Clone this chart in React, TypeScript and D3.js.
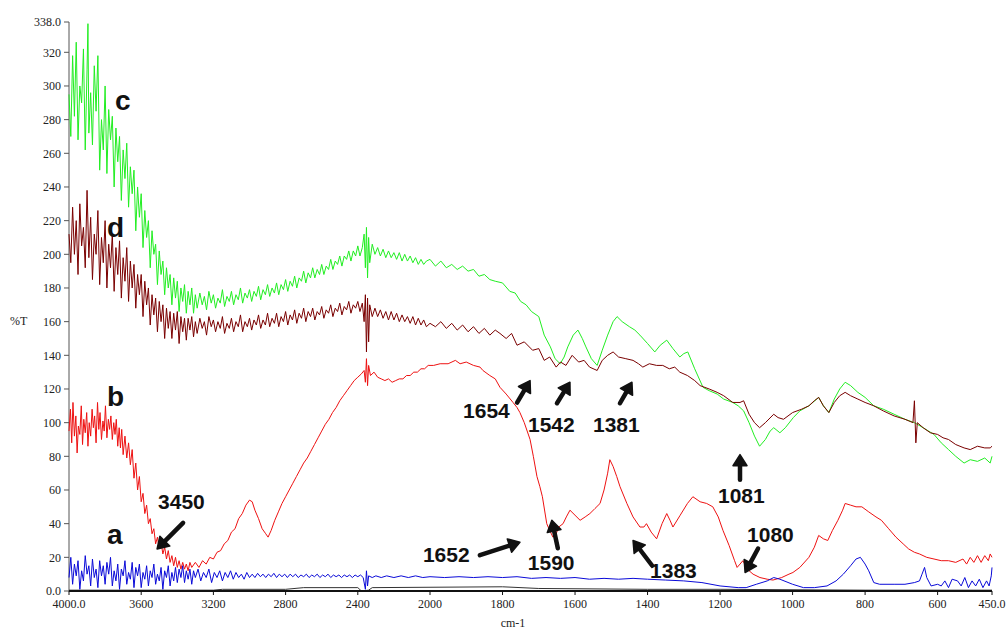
import * as d3 from "d3";

type Pt = [number, number];

// %T readings, [wavenumber cm-1, value]
const SERIES_C: Pt[] = [
  [4000, 295], [3990, 270], [3980, 318], [3970, 282], [3960, 326], [3950, 268], [3940, 300], [3930, 290],
  [3920, 322], [3910, 262], [3900, 310], [3895, 337], [3890, 272], [3880, 296], [3870, 265], [3860, 312],
  [3850, 285], [3840, 318], [3830, 250], [3820, 280], [3810, 262], [3800, 300], [3790, 248], [3780, 286],
  [3770, 268], [3760, 282], [3750, 240], [3740, 275], [3730, 255], [3720, 270], [3710, 232], [3700, 262],
  [3690, 245], [3680, 266], [3670, 228], [3660, 252], [3650, 236], [3640, 250], [3630, 214], [3620, 240],
  [3610, 222], [3600, 236], [3590, 204], [3580, 226], [3570, 210], [3560, 220], [3550, 192], [3540, 214],
  [3530, 200], [3520, 206], [3510, 182], [3500, 202], [3490, 188], [3480, 196], [3470, 176], [3460, 192],
  [3450, 180], [3440, 188], [3430, 170], [3420, 186], [3410, 174], [3400, 184], [3390, 166], [3380, 180],
  [3370, 172], [3360, 182], [3350, 165], [3340, 178], [3330, 170], [3320, 180], [3310, 165], [3300, 176],
  [3290, 168], [3275, 177], [3262, 170], [3250, 175], [3238, 167], [3225, 178], [3212, 171], [3200, 176],
  [3188, 168], [3175, 174], [3162, 171], [3150, 179], [3138, 169], [3125, 175], [3112, 172], [3100, 178],
  [3088, 170], [3075, 176], [3062, 173], [3050, 180], [3038, 171], [3025, 177], [3012, 174], [3000, 179],
  [2988, 172], [2975, 178], [2962, 175], [2950, 181], [2938, 173], [2925, 179], [2912, 176], [2900, 182],
  [2888, 175], [2875, 180], [2862, 177], [2850, 183], [2838, 176], [2825, 182], [2812, 179], [2800, 185],
  [2788, 178], [2775, 184], [2762, 181], [2750, 187], [2738, 180], [2725, 186], [2712, 184], [2700, 190],
  [2688, 183], [2675, 189], [2662, 186], [2650, 192], [2638, 186], [2625, 191], [2612, 188], [2600, 194],
  [2588, 188], [2575, 193], [2562, 191], [2550, 197], [2538, 191], [2525, 196], [2512, 194], [2500, 199],
  [2488, 193], [2475, 199], [2462, 197], [2450, 202], [2438, 196], [2425, 202], [2412, 199], [2400, 205],
  [2388, 199], [2375, 204], [2365, 212], [2358, 192], [2352, 216], [2346, 186], [2340, 210], [2334, 195],
  [2320, 206], [2305, 200], [2290, 204], [2275, 199], [2260, 203], [2245, 198], [2230, 202], [2215, 198],
  [2200, 201], [2185, 197], [2170, 201], [2155, 196], [2140, 200], [2125, 196], [2110, 199], [2095, 195],
  [2080, 198], [2065, 194], [2050, 197], [2035, 194], [2020, 196], [2000, 197], [1985, 193], [1970, 196],
  [1955, 192], [1940, 194], [1925, 191], [1910, 193], [1895, 190], [1880, 191], [1865, 187], [1850, 188],
  [1835, 185], [1820, 184], [1800, 183], [1780, 178], [1765, 177], [1750, 172], [1735, 170], [1720, 166],
  [1700, 163], [1685, 152], [1668, 145], [1655, 138], [1641, 135], [1630, 139], [1620, 145], [1605, 152],
  [1592, 155], [1580, 150], [1570, 145], [1555, 138], [1539, 134], [1525, 143], [1510, 152], [1495, 160],
  [1484, 163], [1470, 160], [1450, 157], [1435, 155], [1421, 152], [1400, 147], [1380, 142], [1365, 146],
  [1347, 149], [1330, 144], [1311, 139], [1300, 141], [1289, 142], [1270, 132], [1247, 121], [1230, 119],
  [1208, 117], [1190, 114], [1165, 112], [1150, 110], [1135, 107], [1120, 100], [1105, 92], [1091, 86],
  [1075, 90], [1062, 95], [1052, 97], [1035, 94], [1020, 97], [998, 103], [980, 107], [955, 110],
  [928, 115], [915, 110], [900, 106], [885, 114], [870, 120], [855, 124], [840, 122], [820, 118],
  [800, 115], [776, 110], [750, 108], [720, 105], [690, 102], [664, 100], [640, 97], [610, 93],
  [590, 88], [570, 84], [550, 80], [527, 76], [510, 78], [490, 77], [470, 79], [455, 76], [450, 80],
];

const SERIES_D: Pt[] = [
  [4000, 212], [3990, 195], [3980, 228], [3970, 200], [3960, 220], [3950, 188], [3940, 230], [3930, 205],
  [3920, 216], [3910, 192], [3900, 238], [3890, 198], [3880, 222], [3870, 185], [3860, 212], [3850, 200],
  [3840, 226], [3830, 182], [3820, 210], [3810, 195], [3800, 220], [3790, 180], [3780, 206], [3770, 192],
  [3760, 212], [3750, 178], [3740, 204], [3730, 188], [3720, 208], [3710, 174], [3700, 198], [3690, 184],
  [3680, 204], [3670, 172], [3660, 196], [3650, 180], [3640, 194], [3630, 168], [3620, 188], [3610, 176],
  [3600, 188], [3590, 163], [3580, 184], [3570, 170], [3560, 180], [3550, 158], [3540, 176], [3530, 164],
  [3520, 174], [3510, 154], [3500, 172], [3490, 160], [3480, 170], [3470, 150], [3460, 168], [3450, 156],
  [3440, 166], [3430, 150], [3420, 165], [3410, 155], [3400, 166], [3390, 147], [3380, 163], [3370, 154],
  [3360, 162], [3350, 149], [3340, 162], [3330, 155], [3320, 163], [3310, 151], [3300, 160], [3290, 153],
  [3275, 162], [3262, 156], [3250, 160], [3238, 152], [3225, 163], [3212, 157], [3200, 161], [3188, 154],
  [3175, 160], [3162, 156], [3150, 163], [3138, 153], [3125, 159], [3112, 156], [3100, 162], [3088, 154],
  [3075, 160], [3062, 157], [3050, 164], [3038, 154], [3025, 160], [3012, 157], [3000, 162], [2988, 155],
  [2975, 161], [2962, 158], [2950, 164], [2938, 156], [2925, 161], [2912, 158], [2900, 165], [2888, 157],
  [2875, 162], [2862, 159], [2850, 165], [2838, 157], [2825, 163], [2812, 160], [2800, 166], [2788, 158],
  [2775, 164], [2762, 161], [2750, 167], [2738, 159], [2725, 165], [2712, 162], [2700, 168], [2688, 160],
  [2675, 166], [2662, 163], [2650, 168], [2638, 161], [2625, 166], [2612, 164], [2600, 169], [2588, 162],
  [2575, 167], [2562, 165], [2550, 170], [2538, 163], [2525, 168], [2512, 166], [2500, 171], [2488, 164],
  [2475, 169], [2462, 167], [2450, 172], [2438, 165], [2425, 170], [2412, 168], [2400, 172], [2388, 166],
  [2375, 171], [2365, 160], [2358, 176], [2352, 142], [2346, 174], [2340, 148], [2334, 170], [2320, 163],
  [2305, 168], [2290, 163], [2275, 167], [2260, 162], [2245, 166], [2230, 161], [2215, 166], [2200, 161],
  [2185, 165], [2170, 160], [2155, 164], [2140, 160], [2125, 163], [2110, 159], [2095, 163], [2080, 158],
  [2065, 162], [2050, 158], [2035, 161], [2020, 157], [2000, 159], [1985, 157], [1970, 160], [1955, 156],
  [1940, 159], [1925, 155], [1910, 158], [1895, 154], [1880, 157], [1865, 153], [1850, 156], [1835, 152],
  [1820, 155], [1807, 153], [1790, 150], [1775, 153], [1760, 146], [1740, 148], [1717, 143], [1700, 144],
  [1685, 137], [1670, 139], [1652, 133], [1640, 136], [1625, 134], [1608, 140], [1590, 136], [1575, 137],
  [1560, 133], [1539, 131], [1525, 137], [1510, 140], [1495, 142], [1480, 139], [1460, 138], [1440, 137],
  [1425, 135], [1413, 133], [1395, 135], [1375, 134], [1358, 134], [1340, 132], [1325, 133], [1311, 130],
  [1290, 128], [1270, 125], [1255, 122], [1230, 120], [1208, 118], [1190, 116], [1165, 112], [1145, 112],
  [1135, 113], [1120, 105], [1105, 100], [1091, 97], [1075, 100], [1052, 105], [1040, 103], [1025, 102],
  [1000, 106], [975, 108], [955, 110], [940, 113], [928, 115], [915, 110], [900, 106], [885, 112],
  [870, 116], [855, 118], [840, 116], [820, 114], [800, 112], [776, 110], [750, 107], [720, 104],
  [690, 102], [668, 100], [664, 113], [660, 88], [656, 100], [640, 97], [620, 94], [600, 93],
  [585, 91], [570, 90], [550, 87], [527, 85], [510, 84], [490, 86], [470, 85], [455, 85], [450, 86],
];

const SERIES_B: Pt[] = [
  [4000, 95], [3992, 108], [3985, 88], [3978, 112], [3970, 92], [3962, 104], [3955, 82], [3948, 98],
  [3940, 93], [3932, 110], [3925, 87], [3918, 102], [3910, 94], [3902, 106], [3895, 86], [3888, 100],
  [3880, 92], [3872, 108], [3865, 97], [3858, 104], [3850, 88], [3842, 112], [3835, 96], [3828, 106],
  [3820, 90], [3812, 101], [3805, 95], [3798, 110], [3790, 91], [3782, 102], [3775, 96], [3768, 104],
  [3760, 90], [3752, 100], [3745, 93], [3738, 102], [3730, 86], [3722, 97], [3715, 85], [3708, 96],
  [3700, 81], [3690, 92], [3680, 79], [3670, 88], [3660, 75], [3650, 84], [3640, 67], [3630, 76],
  [3620, 60], [3610, 68], [3600, 53], [3590, 58], [3580, 46], [3570, 51], [3560, 40], [3550, 43],
  [3540, 34], [3530, 37], [3520, 28], [3510, 32], [3500, 25], [3490, 29], [3480, 22], [3470, 26],
  [3460, 19], [3450, 24], [3440, 17], [3430, 21], [3420, 15], [3410, 20], [3400, 14], [3390, 18],
  [3380, 13], [3370, 17], [3360, 13], [3350, 16], [3340, 12], [3330, 17], [3320, 14], [3300, 17],
  [3280, 14], [3260, 18], [3240, 16], [3220, 20], [3200, 19], [3180, 23], [3160, 24], [3140, 28],
  [3120, 30], [3100, 35], [3080, 37], [3060, 43], [3040, 46], [3020, 51], [3000, 54], [2985, 53],
  [2970, 48], [2950, 43], [2930, 37], [2910, 34], [2897, 32], [2880, 36], [2860, 42], [2840, 47],
  [2820, 52], [2800, 56], [2780, 60], [2760, 64], [2740, 68], [2720, 72], [2700, 76], [2680, 79],
  [2660, 83], [2640, 87], [2620, 91], [2600, 95], [2580, 99], [2560, 102], [2540, 106], [2520, 109],
  [2500, 113], [2480, 116], [2460, 119], [2440, 122], [2420, 125], [2400, 127], [2380, 129], [2365, 131],
  [2358, 124], [2352, 138], [2346, 122], [2340, 134], [2330, 128], [2310, 130], [2290, 127], [2270, 126],
  [2250, 125], [2230, 126], [2210, 124], [2190, 125], [2170, 126], [2150, 126], [2130, 128], [2110, 128],
  [2090, 130], [2070, 130], [2050, 132], [2030, 132], [2010, 134], [1990, 134], [1972, 135], [1950, 135],
  [1930, 137], [1917, 135], [1900, 136], [1880, 134], [1862, 133], [1854, 131], [1835, 128], [1820, 126],
  [1807, 121], [1790, 117], [1771, 112], [1760, 109], [1752, 106], [1740, 100], [1724, 90], [1715, 80],
  [1705, 68], [1697, 62], [1690, 56], [1678, 40], [1670, 36], [1661, 32], [1652, 34], [1645, 38],
  [1633, 40], [1624, 44], [1614, 48], [1600, 45], [1586, 42], [1572, 44], [1559, 46], [1545, 49],
  [1531, 52], [1520, 60], [1510, 70], [1504, 78], [1495, 74], [1485, 68], [1476, 62], [1457, 52],
  [1440, 44], [1421, 38], [1410, 38], [1403, 40], [1390, 35], [1375, 31], [1360, 40], [1347, 46],
  [1338, 42], [1330, 38], [1310, 45], [1290, 52], [1275, 56], [1255, 53], [1237, 52], [1220, 50],
  [1205, 44], [1192, 36], [1175, 27], [1160, 18], [1153, 14], [1145, 16], [1137, 18], [1125, 13],
  [1109, 10], [1090, 8], [1070, 7], [1054, 6.5], [1030, 8], [1010, 10], [999, 11], [980, 14],
  [955, 20], [940, 26], [928, 33], [915, 31], [903, 30], [890, 36], [875, 42], [862, 48],
  [855, 52], [840, 51], [825, 50], [809, 50], [790, 47], [770, 44], [755, 42], [735, 37],
  [715, 32], [695, 28], [680, 25], [664, 23], [650, 22], [630, 20], [610, 19], [590, 18],
  [570, 18], [550, 17], [530, 19], [520, 16], [510, 20], [500, 17], [490, 21], [480, 17],
  [470, 21], [460, 18], [455, 22], [450, 20],
];

const SERIES_A: Pt[] = [
  [4000, 8], [3990, 20], [3980, 4], [3970, 16], [3960, 9], [3950, 18], [3940, 1], [3930, 12],
  [3920, 6], [3910, 21], [3900, 10], [3890, 15], [3880, 3], [3870, 19], [3860, 8], [3850, 13],
  [3840, 2], [3830, 18], [3820, 9], [3810, 15], [3800, 4], [3790, 17], [3780, 10], [3770, 20],
  [3760, 3], [3750, 12], [3740, 6], [3730, 16], [3720, 1], [3710, 13], [3700, 9], [3690, 18],
  [3680, 4], [3670, 11], [3660, 7], [3650, 17], [3640, 2], [3630, 14], [3620, 9], [3610, 16],
  [3600, 2], [3590, 11], [3580, 7], [3570, 15], [3560, 3], [3550, 12], [3540, 8], [3530, 16],
  [3520, 4], [3510, 10], [3500, 6], [3490, 14], [3480, 1], [3470, 12], [3460, 8], [3450, 15],
  [3440, 3], [3430, 11], [3420, 6], [3410, 14], [3400, 5], [3390, 13], [3380, 8], [3370, 15],
  [3360, 5], [3350, 12], [3340, 7], [3330, 13], [3320, 4], [3310, 12], [3300, 8], [3285, 13],
  [3270, 6], [3255, 11], [3240, 8], [3225, 13], [3210, 5], [3195, 11], [3180, 8], [3165, 12],
  [3150, 6], [3135, 11], [3120, 8], [3105, 12], [3090, 7], [3075, 11], [3060, 8], [3045, 10],
  [3030, 7], [3015, 11], [3000, 8], [2985, 10], [2970, 8], [2955, 10.5], [2940, 8.5], [2925, 10],
  [2910, 8], [2895, 10], [2880, 8.5], [2865, 10.5], [2850, 8], [2835, 10], [2820, 8.5], [2805, 10],
  [2790, 8], [2775, 10], [2760, 8.5], [2745, 10], [2730, 8], [2715, 9.5], [2700, 8.5], [2685, 10],
  [2670, 8], [2655, 9.5], [2640, 8.5], [2625, 10], [2610, 8], [2595, 9.5], [2580, 8.5], [2565, 10],
  [2550, 8], [2535, 9.5], [2520, 8.5], [2505, 9.5], [2490, 8], [2475, 9.5], [2460, 8.5], [2445, 9.5],
  [2430, 8], [2415, 9.5], [2400, 8.5], [2385, 9.5], [2370, 8], [2358, 1], [2352, 12], [2346, 3],
  [2340, 9], [2320, 8], [2300, 9], [2270, 8], [2240, 9], [2200, 8], [2160, 9], [2120, 8],
  [2080, 9], [2040, 8], [2000, 8.5], [1960, 8], [1920, 8.5], [1880, 8], [1840, 8.5], [1800, 8],
  [1760, 8.5], [1720, 7.5], [1680, 8], [1640, 7.5], [1600, 8], [1560, 7], [1520, 7.5], [1480, 7],
  [1440, 7.5], [1400, 7], [1350, 6.5], [1300, 6], [1250, 5], [1200, 3], [1150, 2], [1128, 2],
  [1100, 4], [1070, 6], [1052, 8], [1035, 7], [1000, 4], [970, 2], [940, 2], [905, 3],
  [880, 6], [860, 10], [840, 15], [825, 19], [813, 20], [800, 16], [790, 12], [776, 5],
  [760, 4], [720, 4], [690, 4], [664, 5], [650, 6], [643, 10], [636, 14], [630, 8],
  [618, 3], [600, 4], [590, 3], [580, 6], [570, 2], [560, 7], [545, 6], [535, 3],
  [525, 8], [515, 2], [505, 6], [495, 3], [485, 7], [475, 2], [465, 6], [458, 3],
  [452, 9], [450, 14],
];

const SERIES_BASE: Pt[] = [
  [4000, 0.5], [3200, 0.5], [3150, 1], [2800, 1], [2700, 2], [2400, 2], [2380, 0], [2340, 0.5],
  [2320, 2], [1800, 2.5], [1700, 1.5], [1400, 1], [1200, 1], [800, 0.5], [450, 0.5],
];

const X_TICKS = [4000, 3600, 3200, 2800, 2400, 2000, 1800, 1600, 1400, 1200, 1000, 800, 600, 450];
const Y_TICKS = [0, 20, 40, 60, 80, 100, 120, 140, 160, 180, 200, 220, 240, 260, 280, 300, 320, 338];

const SERIES_LABELS = [
  { text: "c", wn: 3745, val: 286 },
  { text: "d", wn: 3789, val: 210 },
  { text: "b", wn: 3789, val: 110 },
  { text: "a", wn: 3789, val: 28 },
];

// arrow head in data units, tail and text as pixel offsets from the head
const PEAKS = [
  { text: "3450", wn: 3512, val: 25, tail: [26, -26], label: [1, -40] },
  { text: "1654", wn: 1724, val: 125, tail: [-13, 22], label: [-67, 37] },
  { text: "1542", wn: 1614, val: 124, tail: [-13, 21], label: [-42, 50] },
  { text: "1381", wn: 1443, val: 124, tail: [-12, 21], label: [-39, 50] },
  { text: "1081", wn: 1145, val: 81, tail: [0, 25], label: [-22, 48] },
  { text: "1652", wn: 1752, val: 29, tail: [-40, 13], label: [-97, 20] },
  { text: "1590", wn: 1664, val: 42, tail: [6, 28], label: [-24, 50] },
  { text: "1383", wn: 1440, val: 30, tail: [19, 25], label: [17, 38] },
  { text: "1080", wn: 1131, val: 11, tail: [13, -24], label: [2, -30] },
];

const W = 1008;
const H = 631;

export default function App() {
  // the spectrometer axis doubles its scale below 2000 cm-1
  const x = d3.scaleLinear().domain([4000, 2000, 450]).range([69, 430, 992]);
  const y = d3.scaleLinear().domain([0, 338]).range([591, 22]);
  const line = d3.line<Pt>().x((d) => x(d[0])).y((d) => y(d[1]));

  const fmtX = (v: number) => (v === 4000 || v === 450 ? v.toFixed(1) : String(v));
  const fmtY = (v: number) => (v === 0 || v === 338 ? v.toFixed(1) : String(v));

  const arrow = (hx: number, hy: number, tx: number, ty: number) => {
    const ang = Math.atan2(hy - ty, hx - tx);
    const len = 11;
    const hw = 7;
    const bx = hx - Math.cos(ang) * len;
    const by = hy - Math.sin(ang) * len;
    const px = -Math.sin(ang) * hw;
    const py = Math.cos(ang) * hw;
    return {
      shaft: `M${tx},${ty}L${bx},${by}`,
      head: `M${hx},${hy}L${bx + px},${by + py}L${bx - px},${by - py}Z`,
    };
  };

  return (
    <svg
      width={W}
      height={H}
      style={{ position: "absolute", left: 0, top: 0, background: "#fff" }}
    >
      {/* y axis */}
      <line x1={69} x2={69} y1={y(338)} y2={y(0)} stroke="#555" strokeWidth={1} />
      {Y_TICKS.map((t) => (
        <g key={t}>
          <line x1={64} x2={69} y1={y(t)} y2={y(t)} stroke="#555" />
          <text
            x={61}
            y={y(t)}
            dy="0.35em"
            textAnchor="end"
            fontFamily="'Liberation Serif', serif"
            fontSize={12}
            fill="#222"
          >
            {fmtY(t)}
          </text>
        </g>
      ))}
      <text x={10} y={325} fontFamily="'Liberation Serif', serif" fontSize={12} fill="#222">
        %T
      </text>

      {/* spectra */}
      <path d={line(SERIES_BASE) || ""} fill="none" stroke="#333" strokeWidth={1} />
      <path d={line(SERIES_C) || ""} fill="none" stroke="#22ee22" strokeWidth={1} />
      <path d={line(SERIES_D) || ""} fill="none" stroke="#7a0000" strokeWidth={1} />
      <path d={line(SERIES_B) || ""} fill="none" stroke="#ee1111" strokeWidth={1} />
      <path d={line(SERIES_A) || ""} fill="none" stroke="#0a0ad8" strokeWidth={1} />

      {/* x axis */}
      <line x1={69} x2={992} y1={y(0)} y2={y(0)} stroke="#111" strokeWidth={2} />
      {X_TICKS.map((t) => (
        <g key={t}>
          <line x1={x(t)} x2={x(t)} y1={y(0)} y2={y(0) + 4} stroke="#111" />
          <text
            x={x(t)}
            y={y(0) + 17}
            textAnchor="middle"
            fontFamily="'Liberation Serif', serif"
            fontSize={12}
            fill="#222"
          >
            {fmtX(t)}
          </text>
        </g>
      ))}
      <text x={513} y={627} textAnchor="middle" fontFamily="'Liberation Serif', serif" fontSize={12} fill="#222">
        cm-1
      </text>

      {/* series letters */}
      {SERIES_LABELS.map((s) => (
        <text
          key={s.text}
          x={x(s.wn)}
          y={y(s.val)}
          fontFamily="'Liberation Sans', Arial, sans-serif"
          fontWeight="bold"
          fontSize={28}
          fill="#111"
        >
          {s.text}
        </text>
      ))}

      {/* peak annotations */}
      {PEAKS.map((p) => {
        const hx = x(p.wn);
        const hy = y(p.val);
        const a = arrow(hx, hy, hx + p.tail[0], hy + p.tail[1]);
        return (
          <g key={p.text}>
            <path d={a.shaft} stroke="#111" strokeWidth={4.5} strokeLinecap="round" />
            <path d={a.head} fill="#111" stroke="#111" strokeWidth={1.5} strokeLinejoin="round" />
            <text
              x={hx + p.label[0]}
              y={hy + p.label[1]}
              fontFamily="'Liberation Sans', Arial, sans-serif"
              fontWeight="bold"
              fontSize={21}
              fill="#111"
            >
              {p.text}
            </text>
          </g>
        );
      })}
    </svg>
  );
}
